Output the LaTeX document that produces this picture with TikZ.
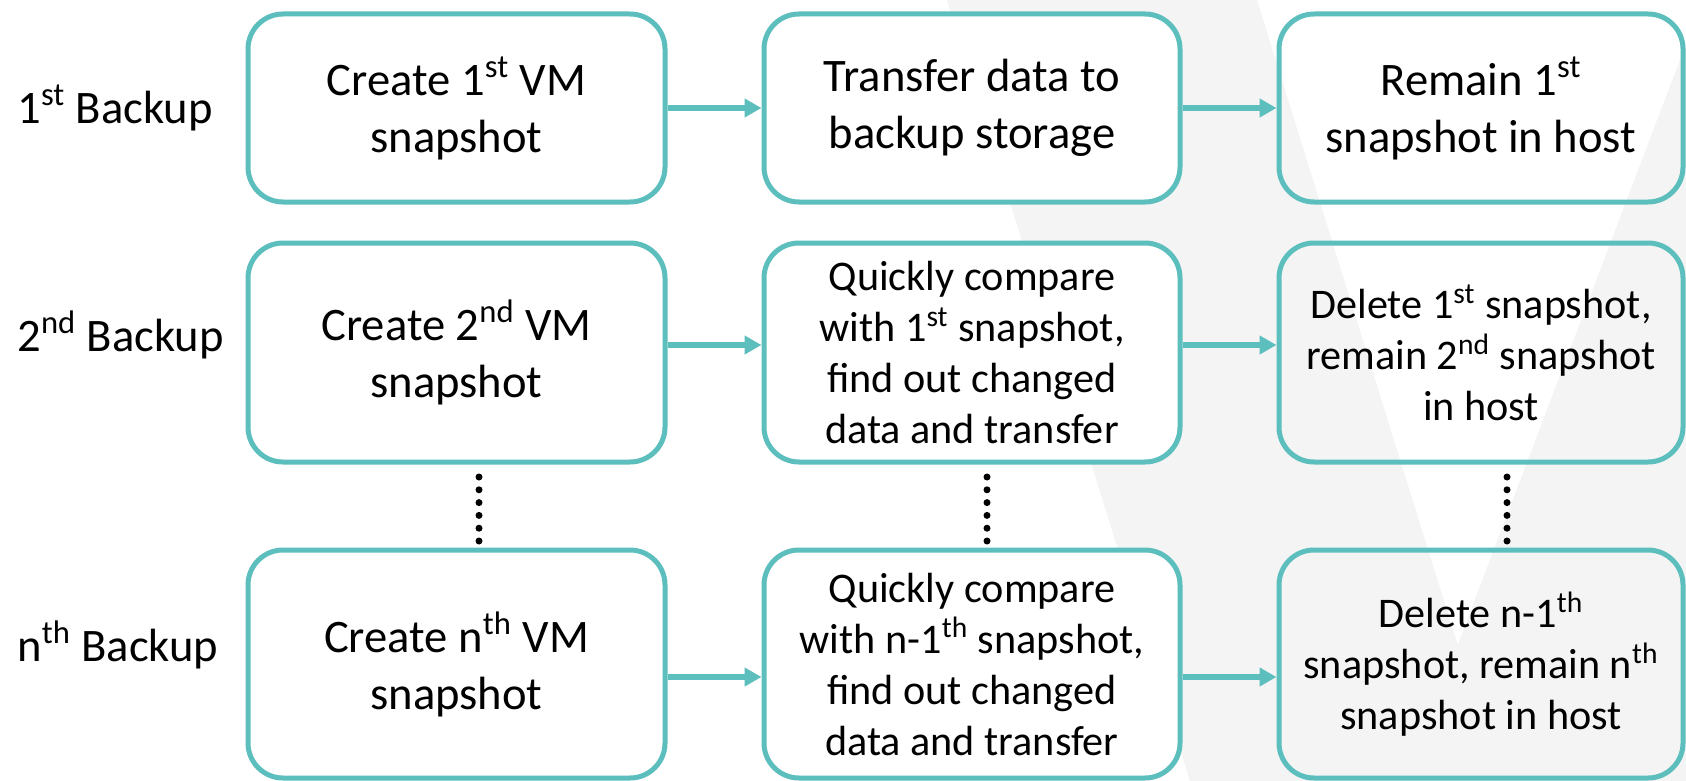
\documentclass[tikz,border=0pt]{standalone}
\usepackage{fontspec}
\setmainfont{Carlito}
\usetikzlibrary{arrows.meta,calc}
\definecolor{tealc}{HTML}{5CBFBD}
\definecolor{bggray}{HTML}{F4F4F4}
\begin{document}
\begin{tikzpicture}[x=0.5pt,y=-0.5pt,
  box/.style={draw=tealc, line width=2.5pt, rounded corners=17.5pt, align=center, inner sep=0pt},
  wbox/.style={box, fill=white},
  bigtxt/.style={font=\fontsize{23.3}{28.5}\selectfont},
  smalltxt/.style={font=\fontsize{21.1}{25.5}\selectfont},
  arr/.style={draw=tealc, line width=2.85pt, -{Triangle[length=8.5pt,width=9pt]}},
  dotline/.style={line width=3.5pt, line cap=round, dash pattern=on 0pt off 6.4pt},
  lbl/.style={anchor=west, inner sep=0pt, bigtxt}
]
\useasboundingbox (0,0) rectangle (1686,781);
\fill[white] (0,0) rectangle (1686,781);
% background stripes
\fill[bggray] (947,0) -- (1257,0) -- (1500,781) -- (1190,781) -- cycle;
\fill[bggray] (1686,44) -- (1686,781) -- (1406,781) -- cycle;

% row labels
\node[lbl] (l1) at (17,108) {1\textsuperscript{st} Backup};
\node[lbl] (l2) at (17,335) {2\textsuperscript{nd} Backup};
\node[lbl] (l3) at (17,645) {n\textsuperscript{th} Backup};

% column 1
\node[wbox, bigtxt, minimum width=208.5pt, minimum height=94pt] (a1) at (456.5,108) {Create 1\textsuperscript{st} VM\\snapshot};
\node[wbox, bigtxt, minimum width=208.5pt, minimum height=109.5pt] (a2) at (456.5,352.5) {Create 2\textsuperscript{nd} VM\\snapshot};
\node[wbox, bigtxt, minimum width=208.5pt, minimum height=114pt] (a3) at (456.5,664) {Create n\textsuperscript{th} VM\\snapshot};

% column 2
\node[wbox, bigtxt, minimum width=208pt, minimum height=94pt] (b1) at (972,108) {Transfer data to\\backup storage};
\node[wbox, smalltxt, minimum width=208pt, minimum height=109.5pt] (b2) at (972,352.5) {Quickly compare\\with 1\textsuperscript{st} snapshot,\\find out changed\\data and transfer};
\node[wbox, smalltxt, minimum width=208pt, minimum height=114pt] (b3) at (972,664) {Quickly compare\\with n-1\textsuperscript{th} snapshot,\\find out changed\\data and transfer};

% column 3
\node[box, bigtxt, minimum width=202pt, minimum height=94pt] (c1) at (1481,108) {Remain 1\textsuperscript{st}\\snapshot in host};
\node[box, smalltxt, minimum width=202pt, minimum height=109.5pt] (c2) at (1481,352.5) {Delete 1\textsuperscript{st} snapshot,\\remain 2\textsuperscript{nd} snapshot\\in host};
\node[box, smalltxt, minimum width=202pt, minimum height=114pt] (c3) at (1481,664) {Delete n-1\textsuperscript{th}\\snapshot, remain n\textsuperscript{th}\\snapshot in host};

% arrow rows
\coordinate (r1) at (0,108);
\coordinate (r2) at (0,345);
\coordinate (r3) at (0,677);
\draw[arr] (a1.east |- r1) -- (b1.west |- r1);
\draw[arr] (b1.east |- r1) -- (c1.west |- r1);
\draw[arr] (a2.east |- r2) -- (b2.west |- r2);
\draw[arr] (b2.east |- r2) -- (c2.west |- r2);
\draw[arr] (a3.east |- r3) -- (b3.west |- r3);
\draw[arr] (b3.east |- r3) -- (c3.west |- r3);

% dotted continuation marks
\coordinate (d1s) at (479,477);   \coordinate (d1e) at (479,541.5);
\coordinate (d2s) at (987,477);   \coordinate (d2e) at (987,541.5);
\coordinate (d3s) at (1507,477);  \coordinate (d3e) at (1507,541.5);
\draw[dotline] (d1s) -- (d1e);
\draw[dotline] (d2s) -- (d2e);
\draw[dotline] (d3s) -- (d3e);
\end{tikzpicture}
\end{document}
